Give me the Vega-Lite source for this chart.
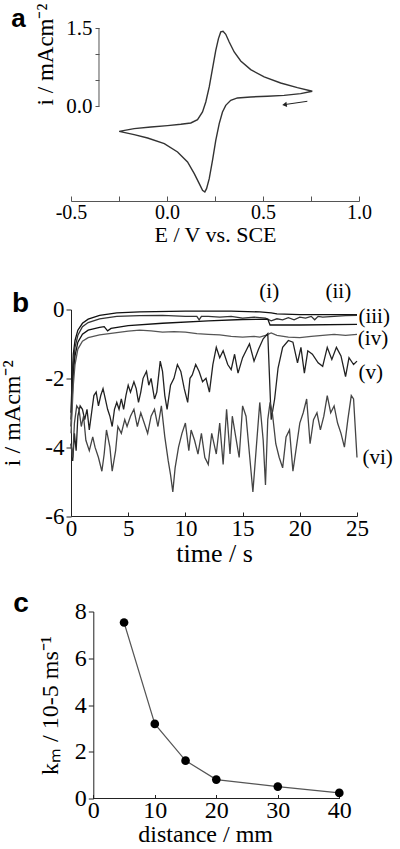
{
  "$schema": "https://vega.github.io/schema/vega-lite/v6.json",
  "background": "white",
  "padding": {"left": 0, "top": 3, "right": 0, "bottom": 0},
  "bounds": "flush",
  "spacing": 108.5,
  "config": {
    "font": "Liberation Serif",
    "view": {"stroke": null},
    "axis": {"grid": false, "labelFont": "Liberation Serif", "titleFont": "Liberation Serif", "titleFontWeight": "normal", "labelColor": "#000", "titleColor": "#000", "domainColor": "#222", "tickColor": "#222", "labelFlush": false, "labelOverlap": false}
  },
  "vconcat": [
    {
      "width": 288, "height": 173,
      "layer": [
        {
          "data": {"values": [
            {"k":1,"E":0.757,"i":0.29},{"k":2,"E":0.696,"i":0.245},{"k":3,"E":0.610,"i":0.213},{"k":4,"E":0.523,"i":0.194},{"k":5,"E":0.436,"i":0.182},{"k":6,"E":0.367,"i":0.163},{"k":7,"E":0.332,"i":0.118},{"k":8,"E":0.306,"i":0.022},{"k":9,"E":0.289,"i":-0.105},{"k":10,"E":0.272,"i":-0.328},{"k":11,"E":0.254,"i":-0.647},{"k":12,"E":0.237,"i":-1.029},{"k":13,"E":0.220,"i":-1.380},{"k":14,"E":0.206,"i":-1.571},{"k":15,"E":0.197,"i":-1.634},{"k":16,"E":0.185,"i":-1.603},{"k":17,"E":0.168,"i":-1.475},{"k":18,"E":0.142,"i":-1.284},{"k":19,"E":0.107,"i":-1.061},{"k":20,"E":0.055,"i":-0.870},{"k":21,"E":-0.014,"i":-0.711},{"k":22,"E":-0.101,"i":-0.602},{"k":23,"E":-0.171,"i":-0.539},{"k":24,"E":-0.249,"i":-0.475},{"k":25,"E":-0.171,"i":-0.424},{"k":26,"E":-0.084,"i":-0.392},{"k":27,"E":0.003,"i":-0.366},{"k":28,"E":0.072,"i":-0.341},{"k":29,"E":0.124,"i":-0.316},{"k":30,"E":0.159,"i":-0.252},{"k":31,"E":0.185,"i":-0.105},{"k":32,"E":0.202,"i":0.086},{"k":33,"E":0.220,"i":0.373},{"k":34,"E":0.237,"i":0.723},{"k":35,"E":0.254,"i":1.074},{"k":36,"E":0.268,"i":1.297},{"k":37,"E":0.280,"i":1.425},{"k":38,"E":0.292,"i":1.437},{"k":39,"E":0.306,"i":1.380},{"k":40,"E":0.324,"i":1.233},{"k":41,"E":0.350,"i":1.042},{"k":42,"E":0.384,"i":0.870},{"k":43,"E":0.436,"i":0.704},{"k":44,"E":0.506,"i":0.564},{"k":45,"E":0.592,"i":0.449},{"k":46,"E":0.679,"i":0.360},{"k":47,"E":0.757,"i":0.290}
          ]},
          "mark": {"type": "line", "color": "#333", "strokeWidth": 1.4},
          "encoding": {
            "x": {"field": "E", "type": "quantitative", "scale": {"domain": [-0.5, 1.0], "nice": false, "zero": false},
              "axis": {"title": "E / V vs. SCE", "values": [-0.5,-0.25,0,0.25,0.5,0.75,1.0], "labelExpr": "(round(datum.value*100) % 50 == 0) ? (datum.value < 0 ? '-' + format(-datum.value,'.1f') : format(datum.value,'.1f')) : ''", "tickSize": -5, "labelPadding": 6, "labelFont": "Liberation Serif", "titleFont": "Liberation Serif", "labelFontSize": 20, "titleFontSize": 22, "titlePadding": 2, "domainColor": "#555", "tickColor": "#555"}},
            "y": {"field": "i", "type": "quantitative", "scale": {"domain": [-1.807, 1.5], "nice": false, "zero": false},
              "axis": {"title": "i / mAcm⁻²", "values": [0,0.25,0.5,0.75,1.0,1.25,1.5], "labelExpr": "(datum.value == 0 || datum.value == 1.5) ? format(datum.value,'.1f') : ''", "offset": -28, "domain": false, "tickSize": 4, "labelPadding": 3, "labelFont": "Liberation Serif", "titleFont": "Liberation Serif", "labelFontSize": 21, "titleFontSize": 23, "titleX": -42, "titleY": 26, "tickColor": "#555"}},
            "order": {"field": "k", "type": "quantitative"}
          }
        },
        {
          "data": {"values": [{"E": -0.3542, "i": 0, "i2": 1.5}]},
          "mark": {"type": "rule", "color": "#555", "strokeWidth": 1},
          "encoding": {"x": {"field": "E", "type": "quantitative"}, "y": {"field": "i", "type": "quantitative"}, "y2": {"field": "i2"}}
        },
        {
          "data": {"values": [{"E": 0.731, "i": 0.099, "E2": 0.620, "i2": 0.040}]},
          "mark": {"type": "rule", "color": "#222", "strokeWidth": 1},
          "encoding": {"x": {"field": "E", "type": "quantitative"}, "y": {"field": "i", "type": "quantitative"}, "x2": {"field": "E2"}, "y2": {"field": "i2"}}
        },
        {
          "data": {"values": [{"E": 0.612, "i": 0.036}]},
          "mark": {"type": "point", "shape": "triangle-left", "filled": true, "color": "#222", "size": 28, "angle": -8, "opacity": 1},
          "encoding": {"x": {"field": "E", "type": "quantitative"}, "y": {"field": "i", "type": "quantitative"}}
        },
        {
          "data": {"values": [{"E": -0.811, "i": 1.52, "label": "a"}]},
          "mark": {"type": "text", "font": "Liberation Sans", "fontWeight": "bold", "fontSize": 26, "align": "left", "baseline": "alphabetic", "color": "#000"},
          "encoding": {"x": {"field": "E", "type": "quantitative"}, "y": {"field": "i", "type": "quantitative"}, "text": {"field": "label"}}
        }
      ]
    },
    {
      "bounds": "flush",
      "spacing": 95,
      "vconcat": [
        {
          "width": 286, "height": 206.5,
          "layer": [
            {
              "data": {"values": [
                {"s":"i","t":0,"i":-3.0},{"s":"i","t":0.1,"i":-2.0},{"s":"i","t":0.2,"i":-1.3},{"s":"i","t":0.35,"i":-0.9},{"s":"i","t":0.6,"i":-0.6},{"s":"i","t":1.0,"i":-0.4},{"s":"i","t":1.5,"i":-0.28},{"s":"i","t":2.5,"i":-0.17},{"s":"i","t":4,"i":-0.1},{"s":"i","t":6,"i":-0.07},{"s":"i","t":10,"i":-0.05},{"s":"i","t":14,"i":-0.05},{"s":"i","t":16.5,"i":-0.07},{"s":"i","t":17.5,"i":-0.1},{"s":"i","t":18,"i":-0.13},{"s":"i","t":20,"i":-0.15},{"s":"i","t":25,"i":-0.15},
                {"s":"ii","t":0,"i":-3.2},{"s":"ii","t":0.1,"i":-2.3},{"s":"ii","t":0.2,"i":-1.6},{"s":"ii","t":0.35,"i":-1.1},{"s":"ii","t":0.6,"i":-0.75},{"s":"ii","t":1.0,"i":-0.5},{"s":"ii","t":1.5,"i":-0.38},{"s":"ii","t":2.5,"i":-0.27},{"s":"ii","t":4,"i":-0.2},{"s":"ii","t":6,"i":-0.18},{"s":"ii","t":8,"i":-0.17},{"s":"ii","t":10,"i":-0.2},{"s":"ii","t":11,"i":-0.2},{"s":"ii","t":11.2,"i":-0.3},{"s":"ii","t":11.4,"i":-0.2},{"s":"ii","t":12,"i":-0.2},{"s":"ii","t":13,"i":-0.22},{"s":"ii","t":14,"i":-0.2},{"s":"ii","t":15,"i":-0.25},{"s":"ii","t":16,"i":-0.22},{"s":"ii","t":17,"i":-0.25},{"s":"ii","t":17.5,"i":-0.33},{"s":"ii","t":18,"i":-0.27},{"s":"ii","t":18.5,"i":-0.3},{"s":"ii","t":19,"i":-0.24},{"s":"ii","t":19.5,"i":-0.3},{"s":"ii","t":20,"i":-0.22},{"s":"ii","t":20.5,"i":-0.25},{"s":"ii","t":21,"i":-0.2},{"s":"ii","t":21.3,"i":-0.3},{"s":"ii","t":21.6,"i":-0.2},{"s":"ii","t":22,"i":-0.22},{"s":"ii","t":23,"i":-0.2},{"s":"ii","t":24,"i":-0.18},{"s":"ii","t":25,"i":-0.17},
                {"s":"iii","t":0,"i":-3.4},{"s":"iii","t":0.1,"i":-2.6},{"s":"iii","t":0.2,"i":-1.9},{"s":"iii","t":0.35,"i":-1.35},{"s":"iii","t":0.6,"i":-0.95},{"s":"iii","t":1.0,"i":-0.72},{"s":"iii","t":1.5,"i":-0.6},{"s":"iii","t":2.5,"i":-0.52},{"s":"iii","t":2.9,"i":-0.5},{"s":"iii","t":3.2,"i":-0.62},{"s":"iii","t":3.5,"i":-0.55},{"s":"iii","t":5,"i":-0.47},{"s":"iii","t":8,"i":-0.4},{"s":"iii","t":12,"i":-0.33},{"s":"iii","t":15,"i":-0.29},{"s":"iii","t":17.2,"i":-0.28},{"s":"iii","t":17.4,"i":-0.45},{"s":"iii","t":20,"i":-0.45},{"s":"iii","t":25,"i":-0.43},
                {"s":"iv","t":0,"i":-3.6},{"s":"iv","t":0.1,"i":-2.9},{"s":"iv","t":0.2,"i":-2.2},{"s":"iv","t":0.35,"i":-1.6},{"s":"iv","t":0.6,"i":-1.15},{"s":"iv","t":1.0,"i":-0.92},{"s":"iv","t":1.5,"i":-0.82},{"s":"iv","t":2.5,"i":-0.74},{"s":"iv","t":4,"i":-0.67},{"s":"iv","t":5,"i":-0.63},{"s":"iv","t":6,"i":-0.6},{"s":"iv","t":7,"i":-0.62},{"s":"iv","t":8,"i":-0.66},{"s":"iv","t":9,"i":-0.64},{"s":"iv","t":10,"i":-0.66},{"s":"iv","t":11,"i":-0.7},{"s":"iv","t":12,"i":-0.72},{"s":"iv","t":13,"i":-0.74},{"s":"iv","t":14,"i":-0.78},{"s":"iv","t":15,"i":-0.8},{"s":"iv","t":16,"i":-0.78},{"s":"iv","t":16.5,"i":-0.8},{"s":"iv","t":17,"i":-0.75},{"s":"iv","t":17.5,"i":-0.68},{"s":"iv","t":18,"i":-0.75},{"s":"iv","t":19,"i":-0.8},{"s":"iv","t":20,"i":-0.82},{"s":"iv","t":21,"i":-0.78},{"s":"iv","t":22,"i":-0.75},{"s":"iv","t":23,"i":-0.72},{"s":"iv","t":24,"i":-0.75},{"s":"iv","t":25,"i":-0.72},
                {"s":"v","t":0,"i":-3.9},{"s":"v","t":0.15,"i":-4.4},{"s":"v","t":0.3,"i":-3.6},{"s":"v","t":0.45,"i":-4.1},{"s":"v","t":0.6,"i":-3.1},{"s":"v","t":0.8,"i":-2.8},{"s":"v","t":1.0,"i":-2.9},{"s":"v","t":1.2,"i":-3.2},{"s":"v","t":1.4,"i":-2.9},{"s":"v","t":1.6,"i":-3.5},{"s":"v","t":1.8,"i":-3.0},{"s":"v","t":2.0,"i":-2.5},{"s":"v","t":2.2,"i":-2.4},{"s":"v","t":2.4,"i":-2.8},{"s":"v","t":2.6,"i":-2.5},{"s":"v","t":2.8,"i":-2.3},{"s":"v","t":3.0,"i":-2.6},{"s":"v","t":3.2,"i":-2.9},{"s":"v","t":3.4,"i":-3.1},{"s":"v","t":3.6,"i":-3.4},{"s":"v","t":3.8,"i":-2.9},{"s":"v","t":4.0,"i":-2.7},{"s":"v","t":4.2,"i":-2.9},{"s":"v","t":4.4,"i":-2.6},{"s":"v","t":4.6,"i":-2.9},{"s":"v","t":4.8,"i":-2.5},{"s":"v","t":5.0,"i":-2.2},{"s":"v","t":5.2,"i":-2.4},{"s":"v","t":5.5,"i":-2.1},{"s":"v","t":5.7,"i":-2.3},{"s":"v","t":5.9,"i":-2.7},{"s":"v","t":6.1,"i":-2.4},{"s":"v","t":6.3,"i":-2.0},{"s":"v","t":6.6,"i":-1.8},{"s":"v","t":6.8,"i":-2.2},{"s":"v","t":7.0,"i":-2.0},{"s":"v","t":7.3,"i":-2.6},{"s":"v","t":7.5,"i":-2.4},{"s":"v","t":7.8,"i":-1.5},{"s":"v","t":8.0,"i":-1.8},{"s":"v","t":8.2,"i":-2.5},{"s":"v","t":8.4,"i":-2.9},{"s":"v","t":8.7,"i":-2.2},{"s":"v","t":9.0,"i":-2.0},{"s":"v","t":9.3,"i":-1.6},{"s":"v","t":9.6,"i":-1.8},{"s":"v","t":9.9,"i":-2.3},{"s":"v","t":10.2,"i":-2.7},{"s":"v","t":10.4,"i":-2.0},{"s":"v","t":10.6,"i":-1.9},{"s":"v","t":10.9,"i":-1.6},{"s":"v","t":11.2,"i":-1.8},{"s":"v","t":11.5,"i":-2.1},{"s":"v","t":11.8,"i":-2.0},{"s":"v","t":12.1,"i":-2.4},{"s":"v","t":12.4,"i":-1.6},{"s":"v","t":12.7,"i":-1.1},{"s":"v","t":13.0,"i":-1.4},{"s":"v","t":13.3,"i":-1.2},{"s":"v","t":13.7,"i":-1.6},{"s":"v","t":14.0,"i":-1.75},{"s":"v","t":14.3,"i":-1.3},{"s":"v","t":14.6,"i":-1.85},{"s":"v","t":15.0,"i":-1.4},{"s":"v","t":15.3,"i":-1.2},{"s":"v","t":15.6,"i":-1.0},{"s":"v","t":16.0,"i":-1.5},{"s":"v","t":16.4,"i":-1.15},{"s":"v","t":16.8,"i":-0.85},{"s":"v","t":17.2,"i":-0.7},{"s":"v","t":17.5,"i":-3.2},{"s":"v","t":17.8,"i":-2.6},{"s":"v","t":18.1,"i":-1.7},{"s":"v","t":18.5,"i":-1.1},{"s":"v","t":19.0,"i":-0.9},{"s":"v","t":19.4,"i":-0.95},{"s":"v","t":19.8,"i":-1.55},{"s":"v","t":20.1,"i":-1.1},{"s":"v","t":20.4,"i":-1.85},{"s":"v","t":20.7,"i":-1.2},{"s":"v","t":21.1,"i":-1.3},{"s":"v","t":21.6,"i":-1.55},{"s":"v","t":22.0,"i":-1.65},{"s":"v","t":22.4,"i":-1.1},{"s":"v","t":22.8,"i":-1.45},{"s":"v","t":23.2,"i":-1.1},{"s":"v","t":23.6,"i":-1.35},{"s":"v","t":24.0,"i":-1.95},{"s":"v","t":24.3,"i":-1.4},{"s":"v","t":24.7,"i":-1.6},{"s":"v","t":25.0,"i":-1.5},
                {"s":"vi","t":0,"i":-3.9},{"s":"vi","t":0.15,"i":-4.3},{"s":"vi","t":0.3,"i":-3.3},{"s":"vi","t":0.5,"i":-2.8},{"s":"vi","t":0.7,"i":-2.9},{"s":"vi","t":0.9,"i":-3.4},{"s":"vi","t":1.1,"i":-3.1},{"s":"vi","t":1.3,"i":-3.8},{"s":"vi","t":1.6,"i":-4.1},{"s":"vi","t":1.9,"i":-3.7},{"s":"vi","t":2.1,"i":-4.0},{"s":"vi","t":2.4,"i":-4.3},{"s":"vi","t":2.7,"i":-4.7},{"s":"vi","t":2.9,"i":-4.2},{"s":"vi","t":3.1,"i":-3.5},{"s":"vi","t":3.4,"i":-4.0},{"s":"vi","t":3.6,"i":-4.7},{"s":"vi","t":3.9,"i":-4.1},{"s":"vi","t":4.1,"i":-3.4},{"s":"vi","t":4.4,"i":-3.6},{"s":"vi","t":4.7,"i":-3.2},{"s":"vi","t":4.9,"i":-3.4},{"s":"vi","t":5.2,"i":-3.1},{"s":"vi","t":5.5,"i":-2.9},{"s":"vi","t":5.8,"i":-3.4},{"s":"vi","t":6.1,"i":-3.0},{"s":"vi","t":6.4,"i":-3.3},{"s":"vi","t":6.7,"i":-3.6},{"s":"vi","t":7.0,"i":-3.1},{"s":"vi","t":7.3,"i":-2.9},{"s":"vi","t":7.6,"i":-3.4},{"s":"vi","t":7.9,"i":-2.8},{"s":"vi","t":8.2,"i":-3.7},{"s":"vi","t":8.5,"i":-4.4},{"s":"vi","t":8.7,"i":-4.8},{"s":"vi","t":8.9,"i":-5.3},{"s":"vi","t":9.1,"i":-4.6},{"s":"vi","t":9.4,"i":-4.0},{"s":"vi","t":9.7,"i":-3.6},{"s":"vi","t":10.0,"i":-3.3},{"s":"vi","t":10.3,"i":-4.1},{"s":"vi","t":10.5,"i":-3.5},{"s":"vi","t":10.8,"i":-3.8},{"s":"vi","t":11.1,"i":-4.2},{"s":"vi","t":11.4,"i":-3.6},{"s":"vi","t":11.7,"i":-4.3},{"s":"vi","t":12.0,"i":-4.5},{"s":"vi","t":12.3,"i":-3.6},{"s":"vi","t":12.7,"i":-4.2},{"s":"vi","t":13.0,"i":-3.3},{"s":"vi","t":13.3,"i":-4.5},{"s":"vi","t":13.6,"i":-2.9},{"s":"vi","t":13.9,"i":-4.2},{"s":"vi","t":14.1,"i":-3.1},{"s":"vi","t":14.4,"i":-3.7},{"s":"vi","t":14.7,"i":-4.3},{"s":"vi","t":15.0,"i":-2.8},{"s":"vi","t":15.3,"i":-3.1},{"s":"vi","t":15.6,"i":-4.2},{"s":"vi","t":15.9,"i":-5.3},{"s":"vi","t":16.2,"i":-4.0},{"s":"vi","t":16.5,"i":-2.7},{"s":"vi","t":16.8,"i":-3.8},{"s":"vi","t":17.0,"i":-5.1},{"s":"vi","t":17.2,"i":-3.2},{"s":"vi","t":17.4,"i":-2.7},{"s":"vi","t":17.6,"i":-3.0},{"s":"vi","t":17.9,"i":-3.9},{"s":"vi","t":18.2,"i":-4.3},{"s":"vi","t":18.5,"i":-4.6},{"s":"vi","t":18.8,"i":-3.7},{"s":"vi","t":19.1,"i":-3.5},{"s":"vi","t":19.4,"i":-4.7},{"s":"vi","t":19.7,"i":-4.0},{"s":"vi","t":20.0,"i":-3.3},{"s":"vi","t":20.3,"i":-3.0},{"s":"vi","t":20.6,"i":-2.6},{"s":"vi","t":20.9,"i":-3.9},{"s":"vi","t":21.2,"i":-3.2},{"s":"vi","t":21.5,"i":-3.0},{"s":"vi","t":21.8,"i":-3.5},{"s":"vi","t":22.1,"i":-3.1},{"s":"vi","t":22.4,"i":-2.5},{"s":"vi","t":22.7,"i":-3.0},{"s":"vi","t":23.0,"i":-2.8},{"s":"vi","t":23.3,"i":-3.3},{"s":"vi","t":23.6,"i":-3.6},{"s":"vi","t":23.9,"i":-4.0},{"s":"vi","t":24.2,"i":-3.2},{"s":"vi","t":24.5,"i":-2.5},{"s":"vi","t":24.7,"i":-2.6},{"s":"vi","t":25.0,"i":-4.3}
              ]},
              "mark": {"type": "line", "strokeWidth": 1.3},
              "encoding": {
                "x": {"field": "t", "type": "quantitative", "scale": {"domain": [0, 25], "nice": false, "zero": false},
                  "axis": {"title": "time / s", "values": [0,2.5,5,7.5,10,12.5,15,17.5,20,22.5,25], "labelExpr": "(datum.value % 5 == 0) ? format(datum.value,'d') : ''", "tickSize": -4, "labelPadding": 5, "labelFont": "Liberation Serif", "titleFont": "Liberation Serif", "labelFontSize": 23, "titleFontSize": 26, "titlePadding": 0}},
                "y": {"field": "i", "type": "quantitative", "scale": {"domain": [-6, 0], "nice": false, "zero": false},
                  "axis": {"title": "i / mAcm⁻²", "values": [-6,-5,-4,-3,-2,-1,0], "labelExpr": "(datum.value % 2 == 0) ? (datum.value < 0 ? '-' + format(-datum.value,'d') : format(datum.value,'d')) : ''", "tickSize": 5, "labelPadding": 2, "labelFont": "Liberation Serif", "titleFont": "Liberation Serif", "labelFontSize": 23, "titleFontSize": 24, "titleX": -47}},
                "color": {"field": "s", "type": "nominal", "scale": {"domain": ["i","ii","iii","iv","v","vi"], "range": ["#111","#333","#111","#555","#222","#444"]}, "legend": null}
              }
            },
            {
              "data": {"values": [
                {"t": 17.33, "i": 0.51, "label": "(i)"},
                {"t": 23.37, "i": 0.51, "label": "(ii)"},
                {"t": 26.5, "i": -0.22, "label": "(iii)"},
                {"t": 26.4, "i": -0.87, "label": "(iv)"},
                {"t": 26.2, "i": -1.85, "label": "(v)"},
                {"t": 26.8, "i": -4.32, "label": "(vi)"}
              ]},
              "mark": {"type": "text", "font": "Liberation Serif", "fontSize": 21, "align": "center", "baseline": "middle", "color": "#000"},
              "encoding": {"x": {"field": "t", "type": "quantitative"}, "y": {"field": "i", "type": "quantitative"}, "text": {"field": "label"}}
            },
            {
              "data": {"values": [{"t": -5.16, "i": -0.07, "label": "b"}]},
              "mark": {"type": "text", "font": "Liberation Sans", "fontWeight": "bold", "fontSize": 28, "align": "left", "baseline": "alphabetic", "color": "#000"},
              "encoding": {"x": {"field": "t", "type": "quantitative"}, "y": {"field": "i", "type": "quantitative"}, "text": {"field": "label"}}
            }
          ]
        },
        {
          "width": 268.3, "height": 187,
          "layer": [
            {
              "data": {"values": [
                {"d": 5, "k": 7.53}, {"d": 10, "k": 3.19}, {"d": 15, "k": 1.62}, {"d": 20, "k": 0.81}, {"d": 30, "k": 0.51}, {"d": 40, "k": 0.24}
              ]},
              "mark": {"type": "line", "color": "#555", "strokeWidth": 1.2},
              "encoding": {
                "x": {"field": "d", "type": "quantitative", "scale": {"domain": [-3.626, 40], "nice": false, "zero": false},
                  "axis": {"title": "distance / mm", "values": [0,5,10,15,20,25,30,35,40], "labelExpr": "(datum.value % 10 == 0) ? format(datum.value,'d') : ''", "domain": false, "tickSize": -4, "labelPadding": 4, "labelFont": "Liberation Serif", "titleFont": "Liberation Serif", "labelFontSize": 24, "titleFontSize": 24, "titlePadding": 0}},
                "y": {"field": "k", "type": "quantitative", "scale": {"domain": [0, 8], "nice": false, "zero": false},
                  "axis": {"title": "kₘ / 10-5 ms⁻¹", "values": [0,1,2,3,4,5,6,7,8], "labelExpr": "(datum.value % 2 == 0) ? format(datum.value,'d') : ''", "offset": -22.3, "tickSize": 5, "labelPadding": 2, "labelFont": "Liberation Serif", "titleFont": "Liberation Serif", "labelFontSize": 24, "titleFontSize": 24, "titleX": -31}}
              }
            },
            {
              "data": {"values": [
                {"d": 5, "k": 7.53}, {"d": 10, "k": 3.19}, {"d": 15, "k": 1.62}, {"d": 20, "k": 0.81}, {"d": 30, "k": 0.51}, {"d": 40, "k": 0.24}
              ]},
              "mark": {"type": "point", "filled": true, "color": "#000", "size": 75, "opacity": 1},
              "encoding": {"x": {"field": "d", "type": "quantitative"}, "y": {"field": "k", "type": "quantitative"}}
            },
            {
              "data": {"values": [{"d": 0, "d2": 40, "k": 0}]},
              "mark": {"type": "rule", "color": "#222", "strokeWidth": 1},
              "encoding": {"x": {"field": "d", "type": "quantitative"}, "x2": {"field": "d2"}, "y": {"field": "k", "type": "quantitative"}}
            },
            {
              "data": {"values": [{"d": -13.0, "k": 7.96, "label": "c"}]},
              "mark": {"type": "text", "font": "Liberation Sans", "fontWeight": "bold", "fontSize": 28, "align": "left", "baseline": "alphabetic", "color": "#000"},
              "encoding": {"x": {"field": "d", "type": "quantitative"}, "y": {"field": "k", "type": "quantitative"}, "text": {"field": "label"}}
            }
          ]
        }
      ]
    }
  ]
}
